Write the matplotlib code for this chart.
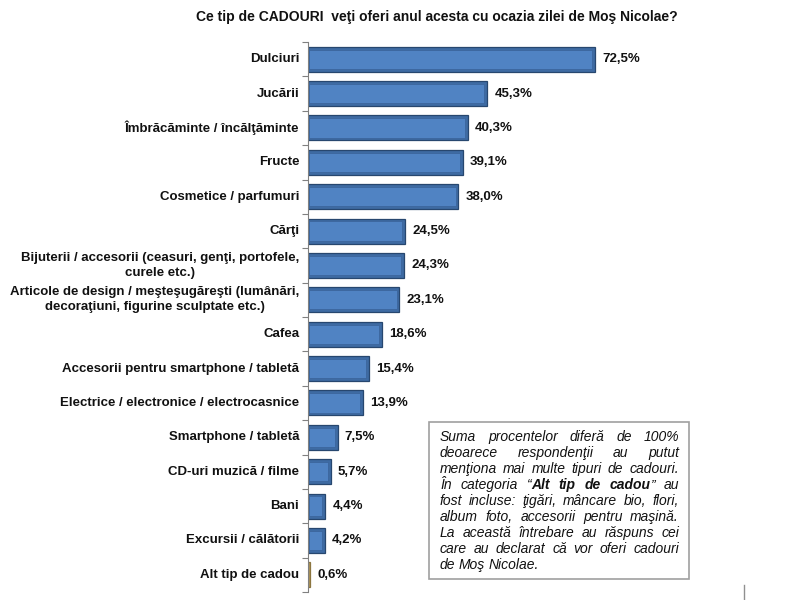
import matplotlib
matplotlib.use("Agg")
import matplotlib.pyplot as plt
from matplotlib.lines import Line2D
from matplotlib.patches import Rectangle

categories = [
    "Dulciuri",
    "Jucării",
    "Îmbrăcăminte / încălţăminte",
    "Fructe",
    "Cosmetice / parfumuri",
    "Cărţi",
    "Bijuterii / accesorii (ceasuri, genţi, portofele,\ncurele etc.)",
    "Articole de design / meşteşugăreşti (lumânări,\ndecoraţiuni, figurine sculptate etc.)",
    "Cafea",
    "Accesorii pentru smartphone / tabletă",
    "Electrice / electronice / electrocasnice",
    "Smartphone / tabletă",
    "CD-uri muzică / filme",
    "Bani",
    "Excursii / călătorii",
    "Alt tip de cadou",
]
values = [72.5, 45.3, 40.3, 39.1, 38.0, 24.5, 24.3, 23.1, 18.6, 15.4, 13.9, 7.5, 5.7, 4.4, 4.2, 0.6]
value_labels = ["72,5%", "45,3%", "40,3%", "39,1%", "38,0%", "24,5%", "24,3%", "23,1%",
                "18,6%", "15,4%", "13,9%", "7,5%", "5,7%", "4,4%", "4,2%", "0,6%"]
title = "Ce tip de CADOURI  veţi oferi anul acesta cu ocazia zilei de Moş Nicolae?"

FONT = ["Liberation Sans", "DejaVu Sans"]
plt.rcParams["font.family"] = FONT

W, H = 800, 600
fig = plt.figure(figsize=(8, 6), dpi=100)
fig.patch.set_facecolor("white")

def fx(px):
    return px / W

def fy(py):
    return 1 - py / H

ax_left, ax_right = 308, 704
ax_top, ax_bot = 42, 592
ax = fig.add_axes([fx(ax_left), fy(ax_bot), fx(ax_right - ax_left), (ax_bot - ax_top) / H])
ax.set_xlim(0, 100)
n = len(categories)
ax.set_ylim(n - 0.5, -0.5)

ypos = list(range(n))
bh = 0.73
outer_colors = ["#3E6BA3"] * (n - 1) + ["#B39A5E"]
outer_edges = ["#27476F"] * (n - 1) + ["#8C7640"]
ax.barh(ypos, values, height=bh, color=outer_colors, edgecolor=outer_edges, linewidth=0.9, zorder=2)
inner_vals = [max(v - 1.1, 0) for v in values[:-1]]
ax.barh(ypos[:-1], inner_vals, left=0.35, height=bh - 0.17, color="#5083C3",
        edgecolor="#3A6298", linewidth=0.5, zorder=3)

for y, v, lab in zip(ypos, values, value_labels):
    ax.text(v + 1.8, y, lab, va="center", ha="left", fontsize=9.5, fontweight="bold",
            color="#111111")

for y, c in zip(ypos, categories):
    ax.text(-2.2, y, c, va="center", ha="right", multialignment="center", fontsize=9.5,
            fontweight="bold", color="#111111", linespacing=1.3)

ax.set_yticks([i - 0.5 for i in range(n + 1)])
ax.set_yticklabels([])
ax.tick_params(axis="y", length=4, width=0.8, color="#808080", direction="out")
ax.set_xticks([])
for s in ["top", "right", "bottom"]:
    ax.spines[s].set_visible(False)
ax.spines["left"].set_color("#808080")
ax.spines["left"].set_linewidth(0.8)
ax.set_facecolor("none")

fig.text(fx(437), fy(17), title, ha="center", va="center", fontsize=10, fontweight="bold",
         color="#111111")

# note box
box = Rectangle((fx(429), fy(579)), fx(689 - 429), (579 - 422) / H, transform=fig.transFigure,
                facecolor="white", edgecolor="#A0A0A0", linewidth=1.2, zorder=1)
fig.add_artist(box)

note_lines = [
    [[("Suma", "normal")], [("procentelor", "normal")], [("diferă", "normal")], [("de", "normal")], [("100%", "normal")]],
    [[("deoarece", "normal")], [("respondenţii", "normal")], [("au", "normal")], [("putut", "normal")]],
    [[("menţiona", "normal")], [("mai", "normal")], [("multe", "normal")], [("tipuri", "normal")], [("de", "normal")], [("cadouri.", "normal")]],
    [[("În", "normal")], [("categoria", "normal")], [("“", "normal"), ("Alt", "bold")], [("tip", "bold")], [("de", "bold")], [("cadou", "bold"), ("”", "normal")], [("au", "normal")]],
    [[("fost", "normal")], [("incluse:", "normal")], [("ţigări,", "normal")], [("mâncare", "normal")], [("bio,", "normal")], [("flori,", "normal")]],
    [[("album", "normal")], [("foto,", "normal")], [("accesorii", "normal")], [("pentru", "normal")], [("maşină.", "normal")]],
    [[("La", "normal")], [("această", "normal")], [("întrebare", "normal")], [("au", "normal")], [("răspuns", "normal")], [("cei", "normal")]],
    [[("care", "normal")], [("au", "normal")], [("declarat", "normal")], [("că", "normal")], [("vor", "normal")], [("oferi", "normal")], [("cadouri", "normal")]],
    [[("de", "normal")], [("Moş", "normal")], [("Nicolae.", "normal")]],
]

renderer = fig.canvas.get_renderer()
x0, x1 = 440, 679
line_y0, line_dy = 437, 16
fs = 10.0
for li, line in enumerate(note_lines):
    yy = line_y0 + li * line_dy
    tokens = []
    for word in line:
        runs = []
        wsum = 0
        for txt, wt in word:
            t = fig.text(0, fy(yy), txt, fontsize=fs, fontstyle="italic", fontweight=wt,
                         va="center", ha="left", color="#111111", zorder=5)
            w = t.get_window_extent(renderer).width
            runs.append((t, w))
            wsum += w
        tokens.append((runs, wsum))
    total = sum(w for _, w in tokens)
    last = li == len(note_lines) - 1
    if last or len(tokens) < 2:
        gap = 3.3
    else:
        gap = (x1 - x0 - total) / (len(tokens) - 1)
    cx = x0
    for runs, wsum in tokens:
        rx = cx
        for t, w in runs:
            t.set_x(fx(rx))
            rx += w
        cx += wsum + gap

# stray mark at bottom right
fig.add_artist(Line2D([fx(744), fx(744)], [fy(585), fy(600)], transform=fig.transFigure,
                      color="#909090", linewidth=1.0))

fig.savefig("out.png", dpi=100)
